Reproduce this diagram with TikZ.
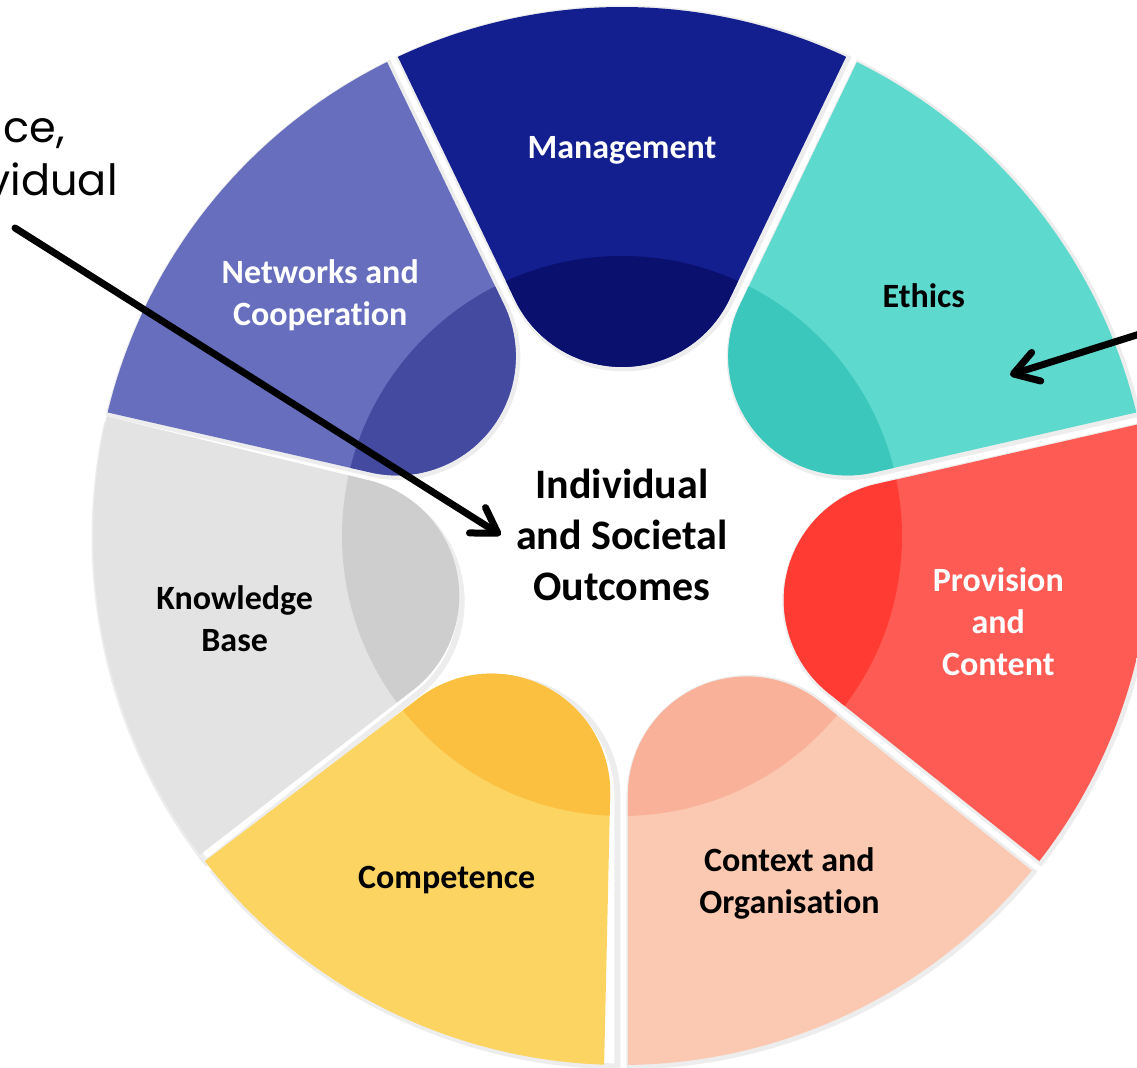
\documentclass[tikz,border=0pt]{standalone}
\usepackage{fontspec}
\setmainfont{Carlito}[Ligatures=NoCommon]
\newfontfamily\notefont{Poppins}
\usepackage{tikz}
\usetikzlibrary{arrows.meta,calc}

\definecolor{mgmtbase}{HTML}{131E8F}
\definecolor{mgmtdark}{HTML}{0A106E}
\definecolor{ethbase}{HTML}{5DD9CE}
\definecolor{ethdark}{HTML}{3CC7BC}
\definecolor{provbase}{HTML}{FF5B55}
\definecolor{provdark}{HTML}{FF3B34}
\definecolor{ctxbase}{HTML}{FBC9B2}
\definecolor{ctxdark}{HTML}{F9B299}
\definecolor{compbase}{HTML}{FCD462}
\definecolor{compdark}{HTML}{FCC040}
\definecolor{knowbase}{HTML}{E3E3E3}
\definecolor{knowdark}{HTML}{CECECE}
\definecolor{netbase}{HTML}{666EBD}
\definecolor{netdark}{HTML}{434AA0}

% half opening of one petal (360/14)
\newcommand{\halfang}{25.714}
% outline of the petal pointing at angle #1
\newcommand{\wheelpetal}[1]{%
  (#1-\halfang+0.65:529) arc[start angle=#1-\halfang+0.65, end angle=#1+\halfang-0.65, radius=529]
  -- ($(#1+\halfang:259.5)+(#1+\halfang-90:6)$)
  arc[start angle=#1+\halfang+90, end angle=#1-\halfang+270, radius=119] -- cycle}

\begin{document}
\begin{tikzpicture}[x=0.5pt, y=0.5pt,
    segtext/.style={font=\fontsize{17}{21}\selectfont\bfseries, align=center},
    hubtext/.style={font=\fontsize{21}{25.5}\selectfont\bfseries, align=center, inner sep=7.5pt},
    notetext/.style={font=\notefont\fontsize{21.5}{26.5}\selectfont, anchor=base east, inner sep=0pt},
    pointer/.style={line width=3.5pt, line cap=round, -{Straight Barb[length=12pt, width=15pt, round]}},
    petalshadow/.style={draw=black, draw opacity=0.07, line width=3pt}]

    \useasboundingbox (-622,-532) rectangle (515,536);
    \clip (-622,-532) rectangle (515,536);

    % Shadows
    \foreach \a in {90,38.571,-12.857,-64.286,-115.714,-167.143,-218.571}
        \draw[petalshadow, shift={(1.5,-1.5)}] \wheelpetal{\a};

    % Petals
    \foreach \a/\r/\base/\dark/\name/\txt/\ink in {
        90/386/mgmtbase/mgmtdark/management/Management/white,
        38.571/386/ethbase/ethdark/ethics/Ethics/black,
        -12.857/386/provbase/provdark/provision/{Provision\\and\\Content}/white,
        -64.286/386/ctxbase/ctxdark/context/{Context and\\Organisation}/black,
        -117/386/compbase/compdark/competence/Competence/black,
        -168/396/knowbase/knowdark/knowledge/{Knowledge\\Base}/black,
        -218.571/386/netbase/netdark/networks/{Networks and\\Cooperation}/white}
    {
        \begin{scope}
            \clip \wheelpetal{\a};
            \fill[\base] (0,0) circle[radius=540];
            \fill[\dark] (0,0) circle[radius=280];
        \end{scope}
        \node[segtext, text=\ink] (\name) at (\a:\r) {\txt};
    }

    % Hub
    \node[hubtext] (outcomes) at (0,1) {Individual\\and Societal\\Outcomes};

    % Side notes
    \node[notetext] (note1) at (-557,393) {ce,};
    \node[notetext] (note2) at (-504,340) {vidual};

    % Arrows
    \coordinate (src1) at (-607,308);
    \coordinate (src2) at (540,209);
    \coordinate (ethicsmark) at (388,161);
    \draw[pointer] (src1) -- (outcomes.west);
    \draw[pointer] (src2) -- (ethicsmark);

\end{tikzpicture}
\end{document}
